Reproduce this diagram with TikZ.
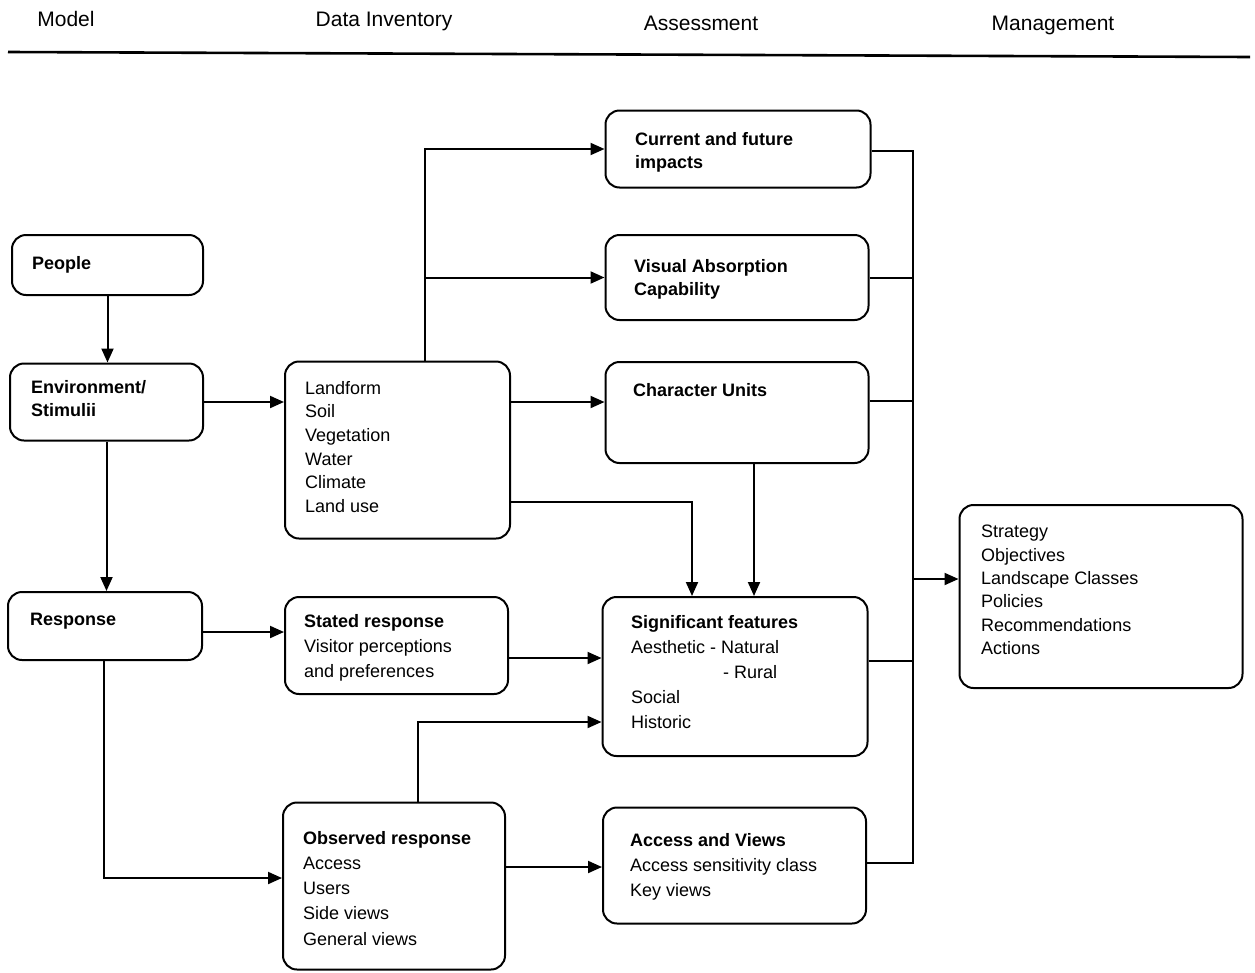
\documentclass[tikz,border=0pt]{standalone}
\usepackage{fontspec}
\setmainfont{Liberation Sans}
\usetikzlibrary{arrows.meta}
\begin{document}
\begin{tikzpicture}[x=1pt,y=-1pt,
  box/.style={draw, line width=2pt, rounded corners=14pt, inner sep=0pt},
  txt/.style={anchor=north west, inner sep=0pt, align=left},
  head/.style={inner sep=0pt, font=\fontsize{21}{24}\selectfont},
  conn/.style={line width=2pt},
  arr/.style={line width=2pt, -{Triangle[length=14pt,width=12pt]}}]
\useasboundingbox (0,0) rectangle (1255,972);

% headers
\node[head] (hmodel) at (66,19) {Model};
\node[head] (hdata) at (384,21) {Data Inventory};
\node[head] (hass) at (701,23) {Assessment};
\node[head] (hman) at (1053,25) {Management};
\coordinate (hl) at (8,52);
\coordinate (hr) at (1250,57);
\draw[line width=2.6pt] (hl) -- (hr);

% boxes
\node[box, minimum width=191pt, minimum height=60pt] (people) at (107.5,265) {};
\node[box, minimum width=193pt, minimum height=77pt] (env) at (106.5,402) {};
\node[box, minimum width=194pt, minimum height=68pt] (resp) at (105,626) {};
\node[box, minimum width=225pt, minimum height=177pt] (land) at (397.5,450) {};
\node[box, minimum width=223pt, minimum height=97pt] (stated) at (396.5,645.5) {};
\node[box, minimum width=222pt, minimum height=167pt] (obs) at (394,886) {};
\node[box, minimum width=265pt, minimum height=77pt] (cur) at (738,149) {};
\node[box, minimum width=263pt, minimum height=85pt] (vac) at (737,277.5) {};
\node[box, minimum width=263pt, minimum height=101pt] (char) at (737,412.5) {};
\node[box, minimum width=265pt, minimum height=159pt] (sig) at (735,676.5) {};
\node[box, minimum width=263pt, minimum height=116pt] (acc) at (734.5,865.5) {};
\node[box, minimum width=283pt, minimum height=183pt] (strat) at (1101,596.5) {};

% texts
\node[txt, font=\fontsize{18}{23}\selectfont] (tpeople) at (32,256) {\textbf{People}};
\node[txt, font=\fontsize{18}{23}\selectfont] (tenv) at (31,380) {\textbf{Environment/}\\\textbf{Stimulii}};
\node[txt, font=\fontsize{18}{23}\selectfont] (tresp) at (30,613) {\textbf{Response}};
\node[txt, font=\fontsize{18}{23.6}\selectfont] (tland) at (305,381) {Landform\\Soil\\Vegetation\\Water\\Climate\\Land use};
\node[txt, font=\fontsize{18}{25}\selectfont] (tstated) at (304,614) {\textbf{Stated response}\\Visitor perceptions\\and preferences};
\node[txt, font=\fontsize{18}{25.2}\selectfont] (tobs) at (303,831) {\textbf{Observed response}\\Access\\Users\\Side views\\General views};
\node[txt, font=\fontsize{18}{23}\selectfont] (tcur) at (635,132) {\textbf{Current and future}\\\textbf{impacts}};
\node[txt, font=\fontsize{18}{23}\selectfont] (tvac) at (634,259) {\textbf{Visual Absorption}\\\textbf{Capability}};
\node[txt, font=\fontsize{18}{23}\selectfont] (tchar) at (633,383) {\textbf{Character Units}};
\node[txt, font=\fontsize{18}{25}\selectfont] (tsig) at (631,615) {\textbf{Significant features}\\Aesthetic - Natural\\\hspace*{92pt}- Rural\\Social\\Historic};
\node[txt, font=\fontsize{18}{25}\selectfont] (tacc) at (630,833) {\textbf{Access and Views}\\Access sensitivity class\\Key views};
\node[txt, font=\fontsize{18}{23.4}\selectfont] (tstrat) at (981,525) {Strategy\\Objectives\\Landscape Classes\\Policies\\Recommendations\\Actions};

% connectors (model column)
\draw[arr] (people.south) -- (people.south |- env.north);
\draw[arr] (env.south) -- (env.south |- resp.north);
\draw[arr] (env.east) -- (env.east -| land.west);

% landform to assessment
\coordinate (jup) at (425,149);
\coordinate (jvac) at (425,277.5);
\draw[arr] (jup |- land.north) -- (jup) -- (jup -| cur.west);
\draw[arr] (jvac) -- (jvac -| vac.west);
\coordinate (jchar) at (510,402);
\draw[arr] (land.east |- jchar) -- (jchar -| char.west);
\coordinate (jls) at (692,502);
\draw[arr] (land.east |- jls) -- (jls) -- (jls |- sig.north);
\coordinate (jcs) at (754,463);
\draw[arr] (jcs |- char.south) -- (jcs |- sig.north);

% response branch
\coordinate (jrs) at (0,632);
\draw[arr] (resp.east |- jrs) -- (jrs -| stated.west);
\coordinate (jss) at (0,658);
\draw[arr] (stated.east |- jss) -- (jss -| sig.west);
\coordinate (jro) at (104,878);
\draw[arr] (jro |- resp.south) -- (jro) -- (jro -| obs.west);
\coordinate (jos) at (418,722);
\draw[arr] (jos |- obs.north) -- (jos) -- (jos -| sig.west);
\coordinate (joa) at (0,867);
\draw[arr] (obs.east |- joa) -- (joa -| acc.west);

% bus to management
\coordinate (bt) at (913,151);
\coordinate (bb) at (913,863);
\coordinate (bvac) at (913,278);
\coordinate (bchar) at (913,401);
\coordinate (bsig) at (913,661);
\coordinate (bstr) at (913,579);
\draw[conn] (cur.east |- bt) -- (bt) -- (bb) -- (acc.east |- bb);
\draw[conn] (vac.east |- bvac) -- (bvac);
\draw[conn] (char.east |- bchar) -- (bchar);
\draw[conn] (sig.east |- bsig) -- (bsig);
\draw[arr] (bstr) -- (bstr -| strat.west);
\end{tikzpicture}
\end{document}
